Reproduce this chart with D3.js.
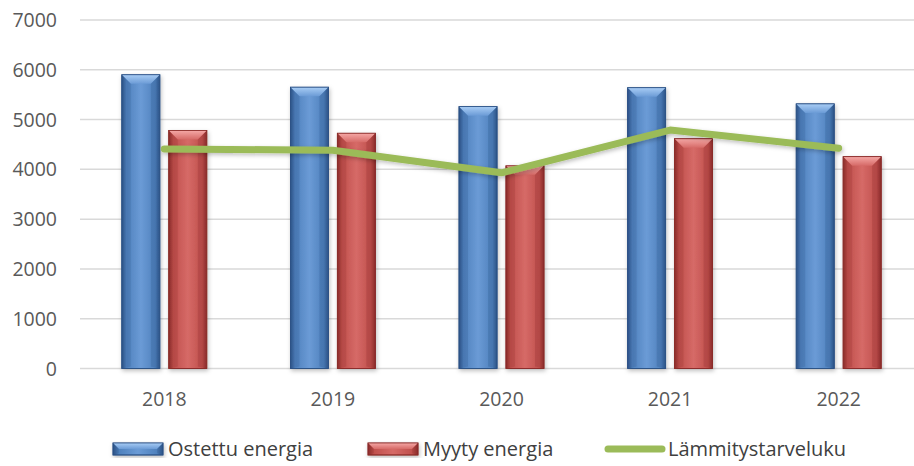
<!DOCTYPE html>
<html>
<head>
<meta charset="utf-8">
<script src="https://cdn.jsdelivr.net/npm/d3@7"></script>
<style>
  body { margin: 0; background: #fff; }
  text { font-family: "Open Sans", sans-serif; fill: #595959; }
</style>
</head>
<body>
<script>
var years = ["2018", "2019", "2020", "2021", "2022"];
var ostettu = [5900, 5650, 5260, 5640, 5315];
var myyty = [4780, 4725, 4070, 4615, 4255];
var lammitys = [4410, 4385, 3930, 4790, 4425];
var yTicks = [0, 1000, 2000, 3000, 4000, 5000, 6000, 7000];
var seriesNames = ["Ostettu energia", "Myyty energia", "Lämmitystarveluku"];

var width = 914, height = 466;

var svg = d3.select("body")
    .append("svg")
    .attr("width", width)
    .attr("height", height);

var defs = svg.append("defs");

// bar colours: main, dark edge, light bevel
var palette = {
    blue: { main: "#4f81bd", dark: "#2c5286", light: "#a9cdf5", mid: "#6b9bd6" },
    red:  { main: "#c0504d", dark: "#8a2c2a", light: "#f5a8a6", mid: "#d66a67" }
};

Object.keys(palette).forEach(function (k) {
    var c = palette[k];
    var g = defs.append("linearGradient").attr("id", "body-" + k)
        .attr("x1", 0).attr("x2", 1).attr("y1", 0).attr("y2", 0);
    g.append("stop").attr("offset", "0%").attr("stop-color", c.dark);
    g.append("stop").attr("offset", "12%").attr("stop-color", c.main);
    g.append("stop").attr("offset", "50%").attr("stop-color", c.mid);
    g.append("stop").attr("offset", "88%").attr("stop-color", c.main);
    g.append("stop").attr("offset", "100%").attr("stop-color", c.dark);

    var t = defs.append("linearGradient").attr("id", "top-" + k)
        .attr("x1", 0).attr("x2", 0).attr("y1", 0).attr("y2", 1);
    t.append("stop").attr("offset", "0%").attr("stop-color", c.light);
    t.append("stop").attr("offset", "100%").attr("stop-color", c.mid);
});

var shadow = defs.append("filter").attr("id", "shadow")
    .attr("x", "-30%").attr("y", "-10%").attr("width", "160%").attr("height", "130%");
shadow.append("feDropShadow").attr("dx", 1).attr("dy", 2).attr("stdDeviation", 2)
    .attr("flood-color", "#000").attr("flood-opacity", 0.25);

var x0 = d3.scaleBand()
    .domain(years)
    .range([80, 923])
    .paddingInner(0.496)
    .paddingOuter(0.248);

var x1 = d3.scaleBand()
    .domain(["blue", "red"])
    .range([0, x0.bandwidth()])
    .paddingInner(0.19);

var y = d3.scaleLinear()
    .domain([0, 7000])
    .range([368.5, 20]);

// gridlines
svg.append("g")
    .selectAll("line")
    .data(yTicks)
    .enter()
    .append("line")
    .attr("x1", 80)
    .attr("x2", width)
    .attr("y1", function (d) { return y(d); })
    .attr("y2", function (d) { return y(d); })
    .attr("stroke", "#d9d9d9")
    .attr("stroke-width", 1.5);

// y labels
svg.append("g")
    .selectAll("text")
    .data(yTicks)
    .enter()
    .append("text")
    .attr("x", 57)
    .attr("y", function (d) { return y(d); })
    .attr("dy", "0.36em")
    .attr("text-anchor", "end")
    .style("font-size", "19.5px")
    .text(function (d) { return d; });

// x labels
svg.append("g")
    .selectAll("text")
    .data(years)
    .enter()
    .append("text")
    .attr("x", function (d) { return x0(d) + x0.bandwidth() / 2; })
    .attr("y", 399)
    .attr("dy", "0.36em")
    .attr("text-anchor", "middle")
    .style("font-size", "19.5px")
    .text(function (d) { return d; });

function drawBar(g, x, yTop, w, h, k) {
    var c = palette[k];
    var b = Math.min(9, h / 2);
    var bar = g.append("g").attr("filter", "url(#shadow)");
    bar.append("rect")
        .attr("x", x).attr("y", yTop)
        .attr("width", w).attr("height", h)
        .attr("fill", "url(#body-" + k + ")")
        .attr("stroke", c.dark)
        .attr("stroke-width", 0.8);
    // top bevel
    bar.append("polygon")
        .attr("points", [[x, yTop], [x + w, yTop], [x + w - b, yTop + b], [x + b, yTop + b]].join(" "))
        .attr("fill", "url(#top-" + k + ")");
    bar.append("polygon")
        .attr("points", [[x, yTop], [x + b, yTop + b], [x + b, yTop + h - 2], [x, yTop + h]].join(" "))
        .attr("fill", c.dark).attr("opacity", 0.2);
    bar.append("polygon")
        .attr("points", [[x + w, yTop], [x + w - b, yTop + b], [x + w - b, yTop + h - 2], [x + w, yTop + h]].join(" "))
        .attr("fill", c.dark).attr("opacity", 0.25);
    bar.append("rect")
        .attr("x", x).attr("y", yTop)
        .attr("width", w).attr("height", h)
        .attr("fill", "none")
        .attr("stroke", c.dark)
        .attr("stroke-width", 0.8);
}

var bars = svg.append("g");
years.forEach(function (yr, i) {
    drawBar(bars, x0(yr) + x1("blue"), y(ostettu[i]), x1.bandwidth(), y(0) - y(ostettu[i]), "blue");
    drawBar(bars, x0(yr) + x1("red"), y(myyty[i]), x1.bandwidth(), y(0) - y(myyty[i]), "red");
});

// line
var line = d3.line()
    .x(function (d, i) { return x0(years[i]) + x0.bandwidth() / 2; })
    .y(function (d) { return y(d); });

svg.append("path")
    .datum(lammitys)
    .attr("d", line)
    .attr("fill", "none")
    .attr("stroke", "#9bbb59")
    .attr("stroke-width", 7)
    .attr("stroke-linecap", "round")
    .attr("stroke-linejoin", "round")
    .attr("filter", "url(#shadow)");

// legend
var legend = svg.append("g");
var legendItems = [
    { name: seriesNames[0], x: 113, type: "blue" },
    { name: seriesNames[1], x: 368, type: "red" },
    { name: seriesNames[2], x: 605, type: "line" }
];
legendItems.forEach(function (d) {
    var tx = d.type === "line" ? d.x + 63 : d.x + 55;
    if (d.type === "line") {
        legend.append("line")
            .attr("x1", d.x + 3).attr("x2", d.x + 57)
            .attr("y1", 449).attr("y2", 449)
            .attr("stroke", "#9bbb59")
            .attr("stroke-width", 7)
            .attr("stroke-linecap", "round");
    } else {
        drawBar(legend, d.x, 443, 50, 12, d.type);
    }
    legend.append("text")
        .attr("x", tx).attr("y", 449).attr("dy", "0.36em")
        .style("font-size", "20px")
        .style("fill", "#404040")
        .text(d.name);
});
</script>
</body>
</html>
